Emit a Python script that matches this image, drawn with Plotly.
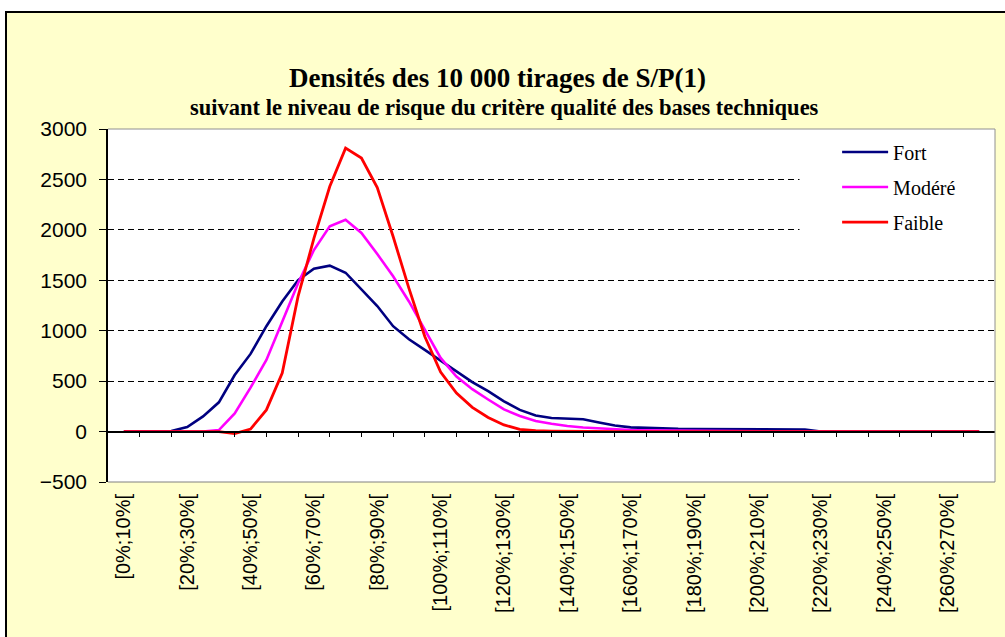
import plotly.graph_objects as go

# ---- data -------------------------------------------------------------
X_PCT = [5, 10, 15, 20, 25, 30, 35, 40, 45, 50, 55, 60, 65, 70, 75, 80, 85, 90, 95, 100,
         105, 110, 115, 120, 125, 130, 135, 140, 145, 150, 155, 160, 165, 170, 175, 180,
         185, 190, 195, 200, 205, 210, 215, 220, 225, 230, 235, 240, 245, 250, 255, 260,
         265, 270, 275]

FORT = [0, 0, 0, 5, 45, 150, 290, 560, 770, 1045, 1290, 1500, 1615, 1645, 1575, 1410,
        1245, 1045, 915, 810, 705, 595, 490, 400, 300, 215, 160, 135, 128, 122, 90, 60,
        42, 35, 30, 27, 26, 25, 25, 24, 23, 22, 21, 20, 0, 0, 0, 0, 0, 0, 0, 0, 0, 0, 0]

MODERE = [0, 0, 0, 0, 0, 0, 15, 180, 435, 710, 1090, 1470, 1800, 2035, 2100, 1970,
          1760, 1540, 1290, 1010, 730, 546, 420, 318, 220, 155, 105, 78, 55, 40, 30, 20,
          15, 12, 10, 8, 7, 6, 5, 4, 3, 2, 2, 1, 0, 0, 0, 0, 0, 0, 0, 0, 0, 0, 0]

FAIBLE = [0, 0, 0, 0, 0, 0, 0, -20, 25, 215, 580, 1340, 1915, 2430, 2810, 2712, 2420,
          1934, 1420, 942, 590, 381, 240, 140, 66, 22, 8, 4, 2, 0, 0, 0, 0, 0, 0, 0, 0,
          0, 0, 0, 0, 0, 0, 0, 0, 0, 0, 0, 0, 0, 0, 0, 0, 0, 0]

SERIES_NAMES = ["Fort", "Modéré", "Faible"]
SERIES_COLORS = ["#000080", "#FF00FF", "#FF0000"]

TICK_LABELS = ["[0%;10%[", "[20%;30%[", "[40%;50%[", "[60%;70%[", "[80%;90%[",
               "[100%;110%[", "[120%;130%[", "[140%;150%[", "[160%;170%[",
               "[180%;190%[", "[200%;210%[", "[220%;230%[", "[240%;250%[",
               "[260%;270%["]
BIN_EDGES = list(range(10, 280, 10))

TITLE = "Densités des 10 000 tirages de S/P(1)"
SUBTITLE = "suivant le niveau de risque du critère qualité des bases techniques"

# ---- figure -----------------------------------------------------------
CREAM = "#FFFFCC"
X_RANGE = [0, 280]
Y_RANGE = [-500, 3000]

fig = go.Figure()
series = [FORT, MODERE, FAIBLE]
for i, (name, vals, col) in enumerate(zip(SERIES_NAMES, series, SERIES_COLORS)):
    fig.add_trace(go.Scatter(
        x=X_PCT, y=vals, name=name, mode="lines",
        line=dict(color=col, width=2.8 if i == 2 else 2.6),
        xaxis="x2" if i == 2 else "x", yaxis="y",
        legendgroup=name,
    ))

tickvals = [int(l[1:l.index("%")]) + 5 for l in TICK_LABELS]

fig.update_layout(
    width=1005, height=637,
    margin=dict(l=108, r=10, t=129, b=155),
    paper_bgcolor=CREAM,
    plot_bgcolor="white",
    showlegend=True,
    legend=dict(
        x=0.822, y=0.99, xanchor="left", yanchor="top",
        bgcolor="rgba(0,0,0,0)", borderwidth=0,
        font=dict(family="Liberation Serif", size=20, color="black"),
        traceorder="grouped", tracegroupgap=6, itemwidth=46,
    ),
    xaxis=dict(
        range=X_RANGE, tickmode="array", tickvals=tickvals, ticktext=TICK_LABELS,
        tickangle=-90, ticks="outside", ticklen=3, tickcolor="rgba(0,0,0,0)",
        tickfont=dict(family="Liberation Sans", size=20, color="black"),
        showgrid=False, zeroline=False, showline=False,
    ),
    xaxis2=dict(
        range=X_RANGE, overlaying="x", anchor="free", position=(0 - Y_RANGE[0]) / (Y_RANGE[1] - Y_RANGE[0]),
        side="bottom", tickmode="array", tickvals=BIN_EDGES, showticklabels=False,
        ticks="outside", ticklen=5, tickcolor="black", tickwidth=1,
        showline=True, linecolor="black", linewidth=1.5,
        showgrid=False, zeroline=False,
    ),
    yaxis=dict(
        range=Y_RANGE, dtick=500, tick0=0,
        ticks="outside", ticklen=7, tickcolor="black", ticklabelstandoff=8,
        tickfont=dict(family="Liberation Sans", size=21, color="black"),
        showline=True, linecolor="black", linewidth=1.5,
        showgrid=True, gridcolor="black", gridwidth=1, griddash="6px,4px",
        zeroline=False,
    ),
    shapes=[
        # white patch behind the legend (interrupts grid lines)
        dict(type="rect", xref="x", yref="y", x0=218.3, x1=280, y0=1850, y1=3000,
             fillcolor="white", line=dict(width=0), layer="between"),
        # plot area border (top, right, bottom)
        dict(type="line", xref="paper", yref="paper", x0=0, x1=1, y0=1, y1=1,
             line=dict(color="#909090", width=1), layer="above"),
        dict(type="line", xref="paper", yref="paper", x0=1, x1=1, y0=0, y1=1,
             line=dict(color="#909090", width=1), layer="above"),
        dict(type="line", xref="paper", yref="paper", x0=0, x1=1, y0=0, y1=0,
             line=dict(color="#808080", width=1), layer="above"),
        # white outer strips (left and top)
        dict(type="rect", xref="paper", yref="paper", x0=-0.2, x1=(6 - 108) / 887,
             y0=-0.6, y1=1.5, fillcolor="white", line=dict(width=0), layer="above"),
        dict(type="rect", xref="paper", yref="paper", x0=-0.2, x1=1.2,
             y0=(482 - 12) / 353, y1=1.5, fillcolor="white", line=dict(width=0), layer="above"),
        # chart frame
        dict(type="rect", xref="paper", yref="paper", x0=(6 - 108) / 887, x1=1.03,
             y0=-0.6, y1=(482 - 12) / 353, fillcolor="rgba(0,0,0,0)",
             line=dict(color="black", width=2), layer="above"),
    ],
    annotations=[
        dict(text="<b>" + TITLE + "</b>", xref="paper", yref="paper",
             x=(497 - 108) / 887, y=(482 - 78) / 353, xanchor="center", yanchor="middle",
             showarrow=False, font=dict(family="Liberation Serif", size=27, color="black")),
        dict(text="<b>" + SUBTITLE + "</b>", xref="paper", yref="paper",
             x=(504 - 108) / 887, y=(482 - 107) / 353, xanchor="center", yanchor="middle",
             showarrow=False, font=dict(family="Liberation Serif", size=22.5, color="black")),
    ],
)

fig.write_html("out.html", post_script="document.body.style.margin='0';",
               config={"displayModeBar": False})
